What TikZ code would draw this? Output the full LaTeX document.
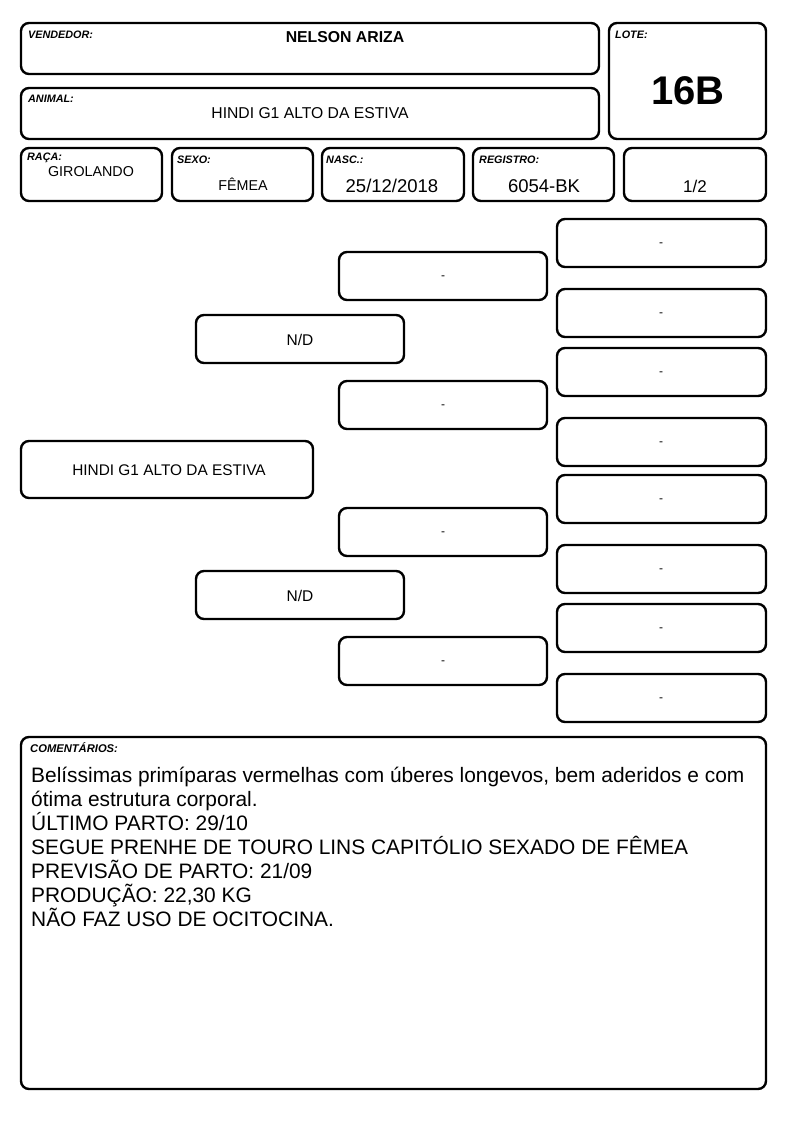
\documentclass[tikz,border=0pt]{standalone}
\usepackage{fontspec}
\setmainfont{Liberation Sans}
\begin{document}
\begin{tikzpicture}[x=1pt,y=-1pt,
  box/.style={draw=black, line width=2.4pt, rounded corners=8pt, anchor=north west, inner sep=0pt, outer sep=0pt, fill=white},
  lbl/.style={anchor=west, inner sep=0pt, font=\fontsize{10.8}{12}\selectfont\bfseries\itshape},
  val/.style={inner sep=0pt, font=\fontsize{15.5}{18}\selectfont},
  smallval/.style={inner sep=0pt, font=\fontsize{14.3}{17}\selectfont},
  bigval/.style={inner sep=0pt, font=\fontsize{18.5}{21}\selectfont},
  dashtxt/.style={inner sep=0pt, font=\fontsize{12}{14}\selectfont}
]
\useasboundingbox (0,0) rectangle (794,1123);
% header
\node[box, minimum width=578pt, minimum height=51pt] (vend) at (21,23) {};
\node[lbl] (vendl) at (28,35) {VENDEDOR:};
\node[inner sep=0pt, font=\fontsize{15.8}{18}\selectfont\bfseries] (vendv) at (345,37) {NELSON ARIZA};

\node[box, minimum width=157pt, minimum height=116pt] (lote) at (609,23) {};
\node[lbl] (lotel) at (615,35) {LOTE:};
\node[inner sep=0pt, font=\fontsize{40}{44}\selectfont\bfseries] (lotev) at (688,91) {16B};

\node[box, minimum width=578pt, minimum height=51pt] (anim) at (21,88) {};
\node[lbl] (animl) at (28,99) {ANIMAL:};
\node[val, font=\fontsize{15.7}{18}\selectfont] (animv) at (310,113) {HINDI G1 ALTO DA ESTIVA};

\node[box, minimum width=141pt, minimum height=53pt] (raca) at (21,148) {};
\node[lbl] (racal) at (27,158) {RAÇA:};
\node[smallval] (racav) at (91,172) {GIROLANDO};

\node[box, minimum width=141pt, minimum height=53pt] (sexo) at (172,148) {};
\node[lbl] (sexol) at (177,160) {SEXO:};
\node[smallval] (sexov) at (243,184) {FÊMEA};

\node[box, minimum width=142pt, minimum height=53pt] (nasc) at (322,148) {};
\node[lbl] (nascl) at (326,160) {NASC.:};
\node[bigval] (nascv) at (392,186) {25/12/2018};

\node[box, minimum width=141pt, minimum height=53pt] (reg) at (473,148) {};
\node[lbl] (regl) at (479,160) {REGISTRO:};
\node[bigval] (regv) at (544,186) {6054-BK};

\node[box, minimum width=142pt, minimum height=53pt] (frac) at (624,148) {};
\node[val, font=\fontsize{17}{20}\selectfont] (fracv) at (695,186) {1/2};

% pedigree
\node[box, minimum width=292pt, minimum height=57pt] (main) at (21,441) {};
\node[val, font=\fontsize{15.4}{18}\selectfont] (mainv) at (169,470) {HINDI G1 ALTO DA ESTIVA};

\node[box, minimum width=208pt, minimum height=48pt] (p1) at (196,315) {};
\node[val] (p1v) at (300,340) {N/D};
\node[box, minimum width=208pt, minimum height=48pt] (p2) at (196,571) {};
\node[val] (p2v) at (300,596) {N/D};

\foreach \y/\n in {252/a,381/b,508/c,637/d}{
  \node[box, minimum width=208pt, minimum height=48pt] (g\n) at (339,\y) {};
  \node[dashtxt] (g\n v) at (443,\y+26) {-};
}
\foreach \y/\n in {219/a,289/b,348/c,418/d,475/e,545/f,604/g,674/h}{
  \node[box, minimum width=209pt, minimum height=48pt] (gg\n) at (557,\y) {};
  \node[dashtxt] (gg\n v) at (661,\y+26) {-};
}

% comments
\node[box, minimum width=745pt, minimum height=352pt] (com) at (21,737) {};
\node[lbl, font=\fontsize{11.2}{12}\selectfont\bfseries\itshape] (coml) at (30,748) {COMENTÁRIOS:};
\node[anchor=north west, inner sep=0pt, align=left, font=\fontsize{20.9}{24}\selectfont] (comv) at (31,767)
{Belíssimas primíparas vermelhas com úberes longevos, bem aderidos e com\\
ótima estrutura corporal.\\
ÚLTIMO PARTO: 29/10\\
SEGUE PRENHE DE TOURO LINS CAPITÓLIO SEXADO DE FÊMEA\\
PREVISÃO DE PARTO: 21/09\\
PRODUÇÃO: 22,30 KG\\
NÃO FAZ USO DE OCITOCINA.};
\end{tikzpicture}
\end{document}
